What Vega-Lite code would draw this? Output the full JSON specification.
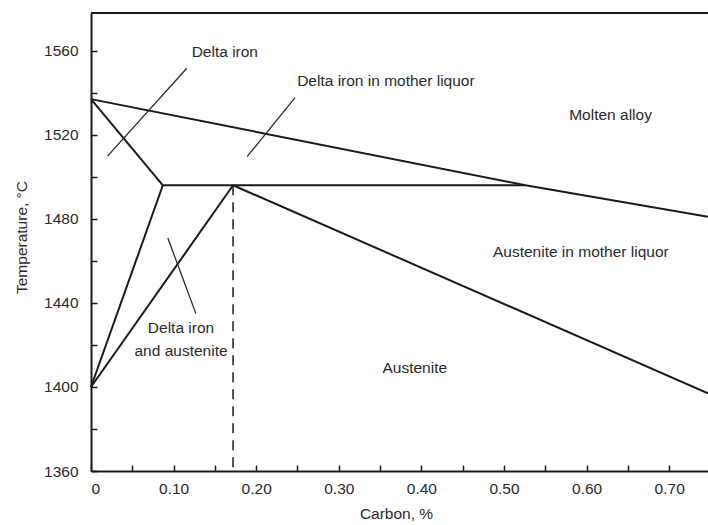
{
  "$schema": "https://vega.github.io/schema/vega-lite/v6.json",
  "autosize": {"type": "none"},
  "padding": {"left": 91, "top": 13, "right": 0, "bottom": 54},
  "width": 617,
  "height": 458,
  "background": "white",
  "config": {
    "view": {"stroke": null},
    "font": "Liberation Sans",
    "axis": {
      "grid": false,
      "domainColor": "#1a1a1a",
      "domainWidth": 2,
      "tickColor": "#1a1a1a",
      "tickWidth": 1.5,
      "tickSize": -6,
      "labelColor": "#2a2a2a",
      "labelFont": "Liberation Sans",
      "labelFontSize": 15.5,
      "titleColor": "#2a2a2a",
      "titleFont": "Liberation Sans",
      "titleFontSize": 15.5,
      "titleFontWeight": "normal"
    }
  },
  "datasets": {
    "curves": [
      {"curve": "liquidus", "ord": 1, "carbon": 0, "temp": 1537},
      {"curve": "liquidus", "ord": 2, "carbon": 0.526, "temp": 1496},
      {"curve": "liquidus", "ord": 3, "carbon": 0.747, "temp": 1481},
      {"curve": "delta_solidus", "ord": 1, "carbon": 0, "temp": 1537},
      {"curve": "delta_solidus", "ord": 2, "carbon": 0.087, "temp": 1496},
      {"curve": "peritectic", "ord": 1, "carbon": 0.087, "temp": 1496},
      {"curve": "peritectic", "ord": 2, "carbon": 0.526, "temp": 1496},
      {"curve": "delta_gamma", "ord": 1, "carbon": 0.087, "temp": 1496},
      {"curve": "delta_gamma", "ord": 2, "carbon": 0, "temp": 1400},
      {"curve": "gamma_delta", "ord": 1, "carbon": 0, "temp": 1400},
      {"curve": "gamma_delta", "ord": 2, "carbon": 0.172, "temp": 1496},
      {"curve": "solidus", "ord": 1, "carbon": 0.172, "temp": 1496},
      {"curve": "solidus", "ord": 2, "carbon": 0.747, "temp": 1397}
    ],
    "leaders": [
      {"leader": "delta", "ord": 1, "carbon": 0.116, "temp": 1551.7},
      {"leader": "delta", "ord": 2, "carbon": 0.020, "temp": 1509.9},
      {"leader": "delta_liquor", "ord": 1, "carbon": 0.247, "temp": 1537.7},
      {"leader": "delta_liquor", "ord": 2, "carbon": 0.189, "temp": 1509.6},
      {"leader": "delta_aust", "ord": 1, "carbon": 0.093, "temp": 1470.9},
      {"leader": "delta_aust", "ord": 2, "carbon": 0.127, "temp": 1434.9}
    ],
    "dashed": [
      {"ord": 1, "carbon": 0.172, "temp": 1496},
      {"ord": 2, "carbon": 0.172, "temp": 1360}
    ],
    "labels": [
      {"text": "Delta iron", "carbon": 0.162, "temp": 1559.3},
      {"text": "Delta iron in mother liquor", "carbon": 0.357, "temp": 1545.5},
      {"text": "Molten alloy", "carbon": 0.629, "temp": 1529.3},
      {"text": "Austenite in mother liquor", "carbon": 0.593, "temp": 1464.3},
      {"text": "Austenite", "carbon": 0.392, "temp": 1409},
      {"text": "Delta iron", "carbon": 0.109, "temp": 1428},
      {"text": "and austenite", "carbon": 0.109, "temp": 1417}
    ],
    "frame": [
      {"c0": 0, "c1": 0.747, "t": 1578}
    ]
  },
  "encoding": {
    "x": {
      "field": "carbon",
      "type": "quantitative",
      "scale": {"domain": [0, 0.747], "nice": false, "zero": false},
      "axis": {
        "title": "Carbon, %",
        "values": [0, 0.05, 0.1, 0.15, 0.2, 0.25, 0.3, 0.35, 0.4, 0.45, 0.5, 0.55, 0.6, 0.65, 0.7],
        "labelExpr": "datum.value == 0 ? '0' : (round(datum.value * 100) % 10 == 0 ? format(datum.value, '.2f') : '')",
        "labelPadding": 16,
        "titleX": 305,
        "titleY": 42,
        "titleBaseline": "middle",
        "titleAlign": "center"
      }
    },
    "y": {
      "field": "temp",
      "type": "quantitative",
      "scale": {"domain": [1360, 1578], "nice": false, "zero": false},
      "axis": {
        "title": "Temperature, °C",
        "values": [1360, 1380, 1400, 1420, 1440, 1460, 1480, 1500, 1520, 1540, 1560],
        "labelExpr": "datum.value % 40 == 0 ? datum.value + '' : ''",
        "labelPadding": 19,
        "titleX": -70,
        "titleY": 224,
        "titleAngle": -90,
        "titleBaseline": "middle",
        "titleAlign": "center"
      }
    }
  },
  "layer": [
    {
      "data": {"name": "curves"},
      "mark": {"type": "line", "color": "#1a1a1a", "strokeWidth": 2},
      "encoding": {
        "detail": {"field": "curve"},
        "order": {"field": "ord", "type": "quantitative"}
      }
    },
    {
      "data": {"name": "leaders"},
      "mark": {"type": "line", "color": "#2a2a2a", "strokeWidth": 1.3},
      "encoding": {
        "detail": {"field": "leader"},
        "order": {"field": "ord", "type": "quantitative"}
      }
    },
    {
      "data": {"name": "dashed"},
      "mark": {"type": "line", "color": "#1a1a1a", "strokeWidth": 1.5, "strokeDash": [10, 7]},
      "encoding": {
        "order": {"field": "ord", "type": "quantitative"}
      }
    },
    {
      "data": {"name": "frame"},
      "mark": {"type": "rule", "color": "#1a1a1a", "strokeWidth": 2},
      "encoding": {
        "x": {"field": "c0", "type": "quantitative"},
        "x2": {"field": "c1"},
        "y": {"field": "t", "type": "quantitative"}
      }
    },
    {
      "data": {"name": "labels"},
      "mark": {"type": "text", "font": "Liberation Sans", "fontSize": 15.5, "color": "#2a2a2a", "align": "center", "baseline": "middle"},
      "encoding": {
        "text": {"field": "text"}
      }
    }
  ]
}
